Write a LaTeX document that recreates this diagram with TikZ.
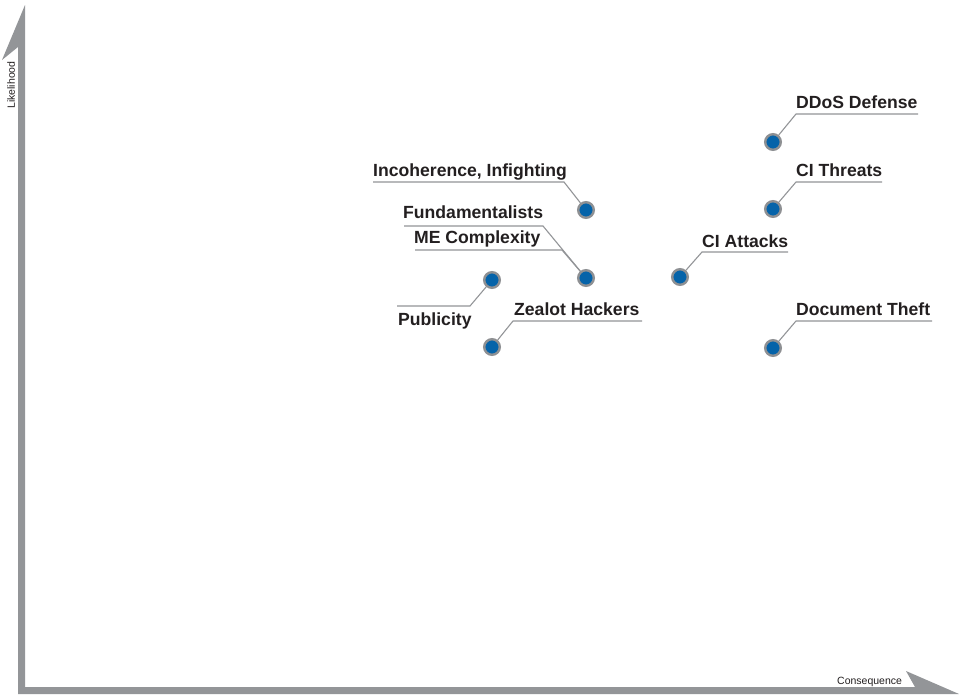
\documentclass[tikz,border=0pt]{standalone}
\usepackage{fontspec}
\setmainfont{Liberation Sans}
\definecolor{axisgray}{HTML}{939598}
\definecolor{ringgray}{HTML}{8E9093}
\definecolor{dotblue}{HTML}{0563A9}
\definecolor{inkdark}{HTML}{231F20}
\tikzset{
  risk/.style={circle, fill=dotblue, draw=ringgray, line width=2.4pt,
    minimum size=15.6pt, inner sep=0pt},
  leader/.style={draw=axisgray, line width=1.1pt},
  tag/.style={anchor=base west, inner sep=0pt, text=inkdark,
    font=\bfseries\fontsize{17.6}{20}\selectfont},
  axislabel/.style={inner sep=0pt, text=inkdark,
    font=\fontsize{10.5}{12}\selectfont},
}
\begin{document}
\begin{tikzpicture}[x=1pt,y=-1pt]
  \useasboundingbox (0,0) rectangle (959,694);
  \fill[white] (0,0) rectangle (959,694);

  % L-shaped axes with half arrow heads
  \fill[axisgray] (18,694) -- (18,47) -- (2,60) -- (25,5) -- (25,687)
    -- (915,687) -- (906,671) -- (959,694) -- cycle;
  \node[axislabel, rotate=90] (ylab) at (11,85) {Likelihood};
  \node[axislabel, anchor=base west] (xlab) at (837,684) {Consequence};

  % risk points
  \node[risk] (dDDoS) at (773,142) {};
  \node[risk] (dThreat) at (773,209) {};
  \node[risk] (dAttack) at (680,277) {};
  \node[risk] (dTheft) at (773,348) {};
  \node[risk] (dIncoh) at (586,210) {};
  \node[risk] (dME) at (586,278) {};
  \node[risk] (dPub) at (492,280) {};
  \node[risk] (dZeal) at (492,347) {};

  % leader elbows and ends
  \coordinate (kDDoS) at (796,114);  \coordinate (eDDoS) at (918,114);
  \coordinate (kThreat) at (796,182); \coordinate (eThreat) at (882,182);
  \coordinate (kAttack) at (702,252); \coordinate (eAttack) at (788,252);
  \coordinate (kTheft) at (796,321);  \coordinate (eTheft) at (932,321);
  \coordinate (kIncoh) at (564,182);  \coordinate (eIncoh) at (373,182);
  \coordinate (kFund) at (543,226);   \coordinate (eFund) at (404,226);
  \coordinate (kME) at (562,250);     \coordinate (eME) at (415,250);
  \coordinate (kPub) at (470,306);    \coordinate (ePub) at (397,306);
  \coordinate (kZeal) at (513,321);   \coordinate (eZeal) at (642,321);

  \draw[leader] (dDDoS) -- (kDDoS) -- (eDDoS);
  \draw[leader] (dThreat) -- (kThreat) -- (eThreat);
  \draw[leader] (dAttack) -- (kAttack) -- (eAttack);
  \draw[leader] (dTheft) -- (kTheft) -- (eTheft);
  \draw[leader] (dIncoh) -- (kIncoh) -- (eIncoh);
  \draw[leader] (dME) -- (kFund) -- (eFund);
  \draw[leader] (dME) -- (kME) -- (eME);
  \draw[leader] (dPub) -- (kPub) -- (ePub);
  \draw[leader] (dZeal) -- (kZeal) -- (eZeal);

  % labels
  \node[tag] (tDDoS) at (796,108) {DDoS Defense};
  \node[tag] (tThreat) at (796,176) {CI Threats};
  \node[tag] (tAttack) at (702,247) {CI Attacks};
  \node[tag] (tTheft) at (796,315) {Document Theft};
  \node[tag] (tIncoh) at (373,176) {Incoherence, Infighting};
  \node[tag] (tFund) at (403,218) {Fundamentalists};
  \node[tag] (tME) at (414,243) {ME Complexity};
  \node[tag] (tPub) at (398,325) {Publicity};
  \node[tag] (tZeal) at (514,315) {Zealot Hackers};
\end{tikzpicture}
\end{document}
